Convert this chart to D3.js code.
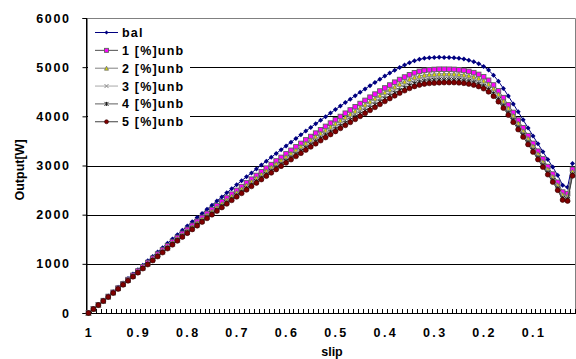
<!DOCTYPE html>
<html>
<head>
<meta charset="utf-8">
<script src="https://cdn.jsdelivr.net/npm/d3@7"></script>
<style>
  html, body { margin: 0; padding: 0; background: #fff; }
  svg { display: block; }
  text { font-family: "Liberation Sans", Arial, sans-serif; font-weight: bold; fill: #000; }
</style>
</head>
<body>
<svg id="chart" width="576" height="359"></svg>
<script>
// slip from 1.00 down to 0.02 in steps of 0.01
const slip = d3.range(100, 1, -1).map(v => v / 100);

// Output [W] for each supply condition
const bal = [0,85,171,258,346,434,523,612,701,791,881,971,1061,1151,1240,1329,1418,1506,1594,1681,1768,1854,1940,2025,2110,2194,2278,2361,2444,2526,2608,2689,2770,2850,2930,3009,3088,3166,3244,3321,3398,3474,3550,3625,3700,3774,3848,3921,3994,4066,4138,4209,4280,4350,4420,4489,4557,4624,4690,4755,4818,4879,4937,4992,5043,5089,5129,5159,5179,5191,5197,5200,5199,5196,5190,5180,5164,5141,5110,5070,5016,4940,4838,4713,4568,4413,4253,4091,3928,3765,3602,3440,3280,3122,2968,2800,2600,2560,3040];
const unb1 = [0,83,166,251,336,421,507,594,679,766,853,940,1026,1112,1197,1282,1367,1451,1535,1618,1700,1782,1863,1943,2024,2103,2182,2260,2339,2416,2493,2570,2646,2721,2797,2871,2945,3018,3092,3164,3236,3308,3379,3449,3520,3589,3658,3726,3795,3862,3929,3996,4063,4129,4194,4260,4324,4389,4452,4515,4577,4636,4694,4748,4799,4845,4885,4915,4935,4947,4953,4958,4958,4957,4954,4946,4934,4914,4888,4852,4804,4733,4637,4518,4380,4232,4078,3922,3765,3607,3449,3291,3133,2978,2825,2658,2459,2428,2922];
const unb2 = [0,82,164,248,332,416,502,587,671,757,842,927,1012,1097,1181,1265,1348,1430,1512,1593,1674,1754,1833,1912,1990,2068,2145,2222,2298,2374,2449,2524,2598,2672,2745,2818,2890,2962,3033,3104,3174,3244,3313,3382,3450,3518,3585,3652,3718,3784,3849,3915,3980,4044,4108,4172,4235,4298,4361,4423,4485,4544,4600,4655,4705,4751,4791,4821,4841,4853,4859,4865,4866,4866,4863,4857,4845,4828,4803,4769,4722,4654,4560,4444,4308,4162,4011,3858,3702,3547,3390,3233,3077,2922,2770,2604,2405,2378,2877];
const unb3 = [0,81,163,246,330,413,497,582,665,750,834,919,1002,1086,1169,1252,1334,1415,1496,1576,1656,1734,1812,1889,1966,2043,2119,2194,2269,2343,2418,2491,2564,2636,2708,2780,2851,2921,2991,3060,3130,3198,3266,3333,3400,3467,3533,3598,3663,3727,3792,3856,3920,3983,4046,4108,4171,4233,4295,4357,4418,4477,4533,4587,4637,4683,4723,4753,4773,4785,4791,4798,4800,4800,4798,4792,4782,4765,4741,4709,4663,4597,4505,4390,4256,4112,3963,3811,3657,3503,3348,3192,3037,2883,2731,2564,2366,2342,2845];
const unb4 = [0,81,162,245,327,410,494,577,660,744,828,911,994,1077,1159,1241,1322,1402,1482,1561,1640,1717,1794,1870,1946,2021,2096,2171,2245,2318,2391,2463,2535,2606,2677,2747,2817,2887,2956,3024,3092,3159,3226,3292,3358,3423,3488,3553,3617,3680,3743,3806,3869,3931,3993,4055,4116,4178,4240,4301,4361,4420,4476,4530,4580,4626,4666,4696,4716,4728,4734,4742,4743,4744,4742,4738,4728,4712,4689,4658,4614,4548,4458,4345,4212,4069,3922,3771,3619,3466,3312,3157,3002,2849,2697,2531,2333,2311,2817];
const unb5 = [0,80,161,243,325,407,490,573,655,738,821,904,986,1068,1149,1230,1310,1389,1468,1546,1624,1700,1776,1851,1926,2000,2074,2147,2220,2292,2364,2435,2506,2576,2646,2715,2784,2852,2920,2987,3054,3120,3186,3251,3316,3380,3444,3507,3570,3632,3694,3756,3818,3879,3940,4001,4062,4123,4184,4245,4305,4363,4419,4473,4523,4569,4609,4639,4659,4671,4677,4685,4687,4688,4687,4683,4674,4659,4637,4607,4564,4500,4411,4299,4168,4027,3881,3732,3581,3429,3276,3122,2968,2815,2664,2498,2300,2280,2790];

const seriesNames = ["bal", "1[%]unb", "2[%]unb", "3[%]unb", "4[%]unb", "5[%]unb"];
const legendLabels = ["bal", "1 [%]unb", "2 [%]unb", "3 [%]unb", "4 [%]unb", "5 [%]unb"];
const yTicks = [0, 1000, 2000, 3000, 4000, 5000, 6000];
const xTickSlips = [1, 0.9, 0.8, 0.7, 0.6, 0.5, 0.4, 0.3, 0.2, 0.1];

const seriesValues = [bal, unb1, unb2, unb3, unb4, unb5];

const styles = [
  { line: "#000080", marker: "diamond", fill: "#000080", stroke: "#000080", size: 5 },
  { line: "#505050", marker: "square",  fill: "#ff00ff", stroke: "#606060", size: 4.6 },
  { line: "#808080", marker: "triangle", fill: "#d8d800", stroke: "#707070", size: 4.6 },
  { line: "#a8a8a8", marker: "cross",   fill: "none",    stroke: "#8c8c8c", size: 4.4 },
  { line: "#606060", marker: "star",    fill: "none",    stroke: "#202020", size: 4.4 },
  { line: "#404040", marker: "circle",  fill: "#800000", stroke: "#300000", size: 5 }
];

const svg = d3.select("#chart");
const plot = { left: 86, right: 575, top: 18, bottom: 313 };

const x = d3.scaleBand().domain(slip).range([plot.left, plot.right]).padding(0);
const cx = s => x(s) + x.bandwidth() / 2;
const y = d3.scaleLinear().domain([0, 6000]).range([plot.bottom, plot.top]);

// horizontal gridlines
svg.append("g").selectAll("line").data(yTicks.filter(v => v > 0 && v < 6000)).join("line")
  .attr("x1", plot.left).attr("x2", plot.right)
  .attr("y1", d => Math.round(y(d)) + 0.5).attr("y2", d => Math.round(y(d)) + 0.5)
  .attr("stroke", "#000").attr("stroke-width", 1);

// plot-area border (top and right)
svg.append("path")
  .attr("d", `M${plot.left},${plot.top + 0.5}H${plot.right + 0.5}V${plot.bottom}`)
  .attr("fill", "none").attr("stroke", "#808080").attr("stroke-width", 1);

// y axis
const yAxis = d3.axisLeft(y).tickValues(yTicks).tickSize(4).tickPadding(12).tickFormat(d3.format("d"));
const gy = svg.append("g").attr("transform", `translate(${plot.left + 0.5},0)`).call(yAxis);
gy.select(".domain").attr("stroke", "#000");
gy.selectAll(".tick line").attr("stroke", "#000");
gy.selectAll(".tick text")
  .attr("font-size", 12.5).attr("letter-spacing", "1.6px")
  .attr("font-family", "Liberation Sans, Arial, sans-serif").attr("font-weight", "bold").attr("fill", "#000");

// x axis: one small tick per category boundary, labels every tenth category
const bounds = slip.map(s => x(s)).concat([plot.right]);
svg.append("g").selectAll("line").data(bounds.slice(1)).join("line")
  .attr("x1", d => Math.round(d) + 0.5).attr("x2", d => Math.round(d) + 0.5)
  .attr("y1", plot.bottom - 4).attr("y2", plot.bottom)
  .attr("stroke", "#000").attr("stroke-width", 1);
svg.append("line")
  .attr("x1", plot.left).attr("x2", plot.right + 1)
  .attr("y1", plot.bottom + 0.5).attr("y2", plot.bottom + 0.5)
  .attr("stroke", "#000");

const xIndex = xTickSlips.map(v => slip.find(s => Math.abs(s - v) < 1e-9));
svg.append("g").selectAll("text").data(xTickSlips).join("text")
  .attr("x", (d, i) => cx(xIndex[i]) + 1)
  .attr("y", 337)
  .attr("text-anchor", "middle")
  .attr("font-size", 12.5).attr("letter-spacing", "2.4px")
  .text(d => String(d));

// axis titles
svg.append("text").attr("x", 332).attr("y", 356).attr("text-anchor", "middle")
  .attr("font-size", 12.5).text("slip");
svg.append("text")
  .attr("transform", "translate(24,170) rotate(-90)")
  .attr("text-anchor", "middle").attr("font-size", 12.5).text("Output[W]");

// left axis line on top
svg.append("line").attr("x1", plot.left + 0.5).attr("x2", plot.left + 0.5)
  .attr("y1", plot.top).attr("y2", plot.bottom + 1).attr("stroke", "#000");

// marker drawing
function drawMarker(g, type, st, size) {
  const h = size / 2;
  if (type === "diamond") {
    g.append("path").attr("d", `M0,${-h}L${h},0L0,${h}L${-h},0Z`)
      .attr("fill", st.fill).attr("stroke", "none");
  } else if (type === "square") {
    g.append("rect").attr("x", -h).attr("y", -h).attr("width", size).attr("height", size)
      .attr("fill", st.fill).attr("stroke", st.stroke).attr("stroke-width", 0.9);
  } else if (type === "triangle") {
    g.append("path").attr("d", `M0,${-h}L${h},${h}L${-h},${h}Z`)
      .attr("fill", st.fill).attr("stroke", st.stroke).attr("stroke-width", 0.8);
  } else if (type === "cross") {
    g.append("path").attr("d", `M${-h},${-h}L${h},${h}M${-h},${h}L${h},${-h}`)
      .attr("stroke", st.stroke).attr("stroke-width", 1);
  } else if (type === "star") {
    g.append("path").attr("d", `M${-h},${-h}L${h},${h}M${-h},${h}L${h},${-h}M0,${-h}V${h}`)
      .attr("stroke", st.stroke).attr("stroke-width", 1);
  } else if (type === "circle") {
    g.append("circle").attr("r", h).attr("fill", st.fill).attr("stroke", st.stroke).attr("stroke-width", 0.6);
  }
}

const line = d3.line().x(d => cx(d[0])).y(d => y(d[1]));

seriesValues.forEach((vals, k) => {
  const st = styles[k];
  const pts = slip.map((s, i) => [s, vals[i]]);
  const g = svg.append("g").attr("class", "series").attr("data-name", seriesNames[k]);
  g.append("path").attr("d", line(pts)).attr("fill", "none")
    .attr("stroke", st.line).attr("stroke-width", 1);
  pts.forEach(p => {
    const m = g.append("g").attr("transform", `translate(${cx(p[0])},${y(p[1])})`);
    drawMarker(m, st.marker, st, st.size);
  });
});

// legend
const lg = svg.append("g");
lg.append("rect").attr("x", 88).attr("y", 21).attr("width", 102).attr("height", 110).attr("fill", "#fff");
legendLabels.forEach((lab, k) => {
  const st = styles[k];
  const cy = 32.5 + k * 17.85;
  lg.append("line").attr("x1", 95).attr("x2", 118).attr("y1", cy).attr("y2", cy)
    .attr("stroke", st.line).attr("stroke-width", 1);
  const m = lg.append("g").attr("transform", `translate(106.5,${cy})`);
  drawMarker(m, st.marker, st, 4);
  lg.append("text").attr("x", 122).attr("y", cy + 4.5).attr("font-size", 12.5)
    .attr("letter-spacing", "1.2px").text(lab);
});
</script>
</body>
</html>
